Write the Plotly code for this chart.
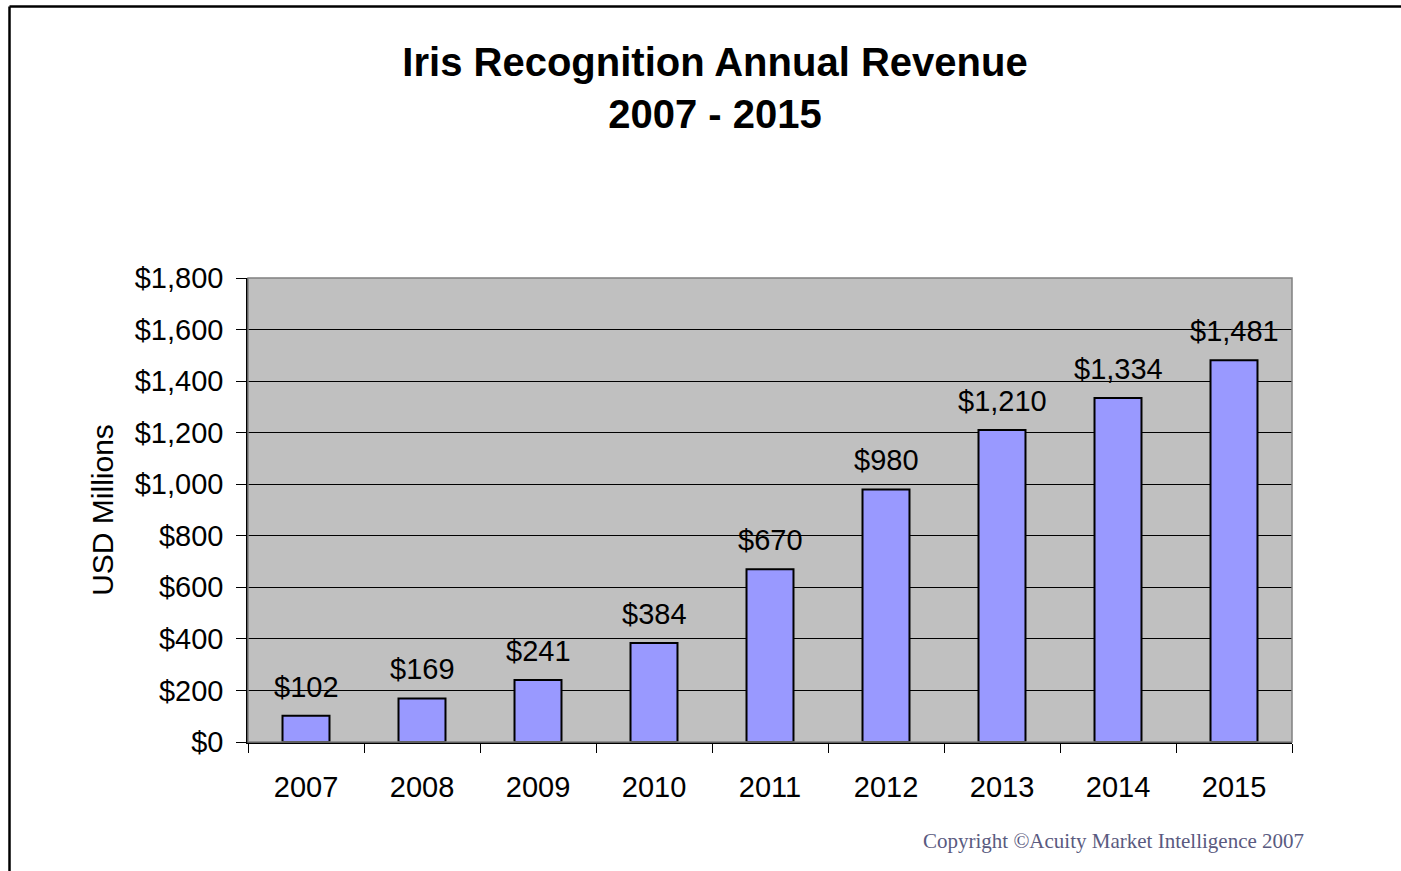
import plotly.graph_objects as go

years = ["2007", "2008", "2009", "2010", "2011", "2012", "2013", "2014", "2015"]
revenue = [102, 169, 241, 384, 670, 980, 1210, 1334, 1481]
y_ticks = [0, 200, 400, 600, 800, 1000, 1200, 1400, 1600, 1800]
y_tick_text = ["${:,}".format(v) for v in y_ticks]

W, H = 1401, 871
L, R, T, B = 248, 109, 278, 129
pw = W - L - R
ph = H - T - B
FONT = "Liberation Sans, Arial"

fig = go.Figure()
fig.add_trace(go.Bar(
    x=years, y=revenue,
    marker=dict(color="#9999FF", line=dict(color="black", width=2)),
    hoverinfo="x+y",
))

for i, (yr, v) in enumerate(zip(years, revenue)):
    fig.add_annotation(
        x=i, y=v, text="${:,}".format(v), showarrow=False,
        yanchor="bottom", yshift=11,
        font=dict(family=FONT, size=29, color="black"),
    )

fig.add_annotation(
    xref="paper", yref="paper", x=(1306 - L) / pw, y=(742 - 841) / ph,
    xanchor="right", yanchor="middle", showarrow=False,
    text="Copyright ©Acuity Market Intelligence 2007",
    font=dict(family="Liberation Serif, Times New Roman", size=21, color="#5a5a80"),
)

# outer frame lines (top and left)
fig.add_shape(type="line", xref="paper", yref="paper",
              x0=(9.5 - L) / pw, x1=(W + 5 - L) / pw,
              y0=(742 - 6.5) / ph, y1=(742 - 6.5) / ph,
              line=dict(color="black", width=2.5))
fig.add_shape(type="line", xref="paper", yref="paper",
              x0=(9.5 - L) / pw, x1=(9.5 - L) / pw,
              y0=(742 - 6.5) / ph, y1=(742 - H - 5) / ph,
              line=dict(color="black", width=2.5))
# plot area outline (gray)
fig.add_shape(type="rect", xref="paper", yref="paper",
              x0=0, x1=1, y0=0, y1=1,
              line=dict(color="#808080", width=1.5), layer="above")

fig.update_layout(
    width=W, height=H,
    margin=dict(l=L, r=R, t=T, b=B),
    paper_bgcolor="white",
    plot_bgcolor="#C0C0C0",
    showlegend=False,
    bargap=0.595,
    title=dict(
        text="<b>Iris Recognition Annual Revenue<br>2007 - 2015</b>",
        x=715 / W, xanchor="center",
        y=1 - 76 / H, yanchor="middle",
        font=dict(family=FONT, size=40, color="black"),
    ),
    xaxis=dict(
        type="category",
        range=[-0.5, len(years) - 0.5],
        tickson="boundaries",
        ticks="outside", ticklen=9, tickwidth=1, tickcolor="black",
        showline=True, linecolor="black", linewidth=1.5,
        showgrid=False,
        tickangle=0,
        tickfont=dict(family=FONT, size=29, color="black"),
        ticklabelstandoff=18,
    ),
    yaxis=dict(
        range=[0, 1800],
        tickmode="array",
        tickvals=y_ticks,
        ticktext=y_tick_text,
        ticks="outside", ticklen=10, tickwidth=1, tickcolor="black",
        showline=True, linecolor="black", linewidth=1.5,
        showgrid=True, gridcolor="black", gridwidth=1,
        zeroline=False,
        ticklabelstandoff=7,
        tickfont=dict(family=FONT, size=29, color="black"),
        title=dict(text="USD Millions", standoff=12,
                   font=dict(family=FONT, size=30, color="black")),
    ),
)

fig.write_html("out.html", config={"displayModeBar": False},
               post_script="document.body.style.margin='0';")
